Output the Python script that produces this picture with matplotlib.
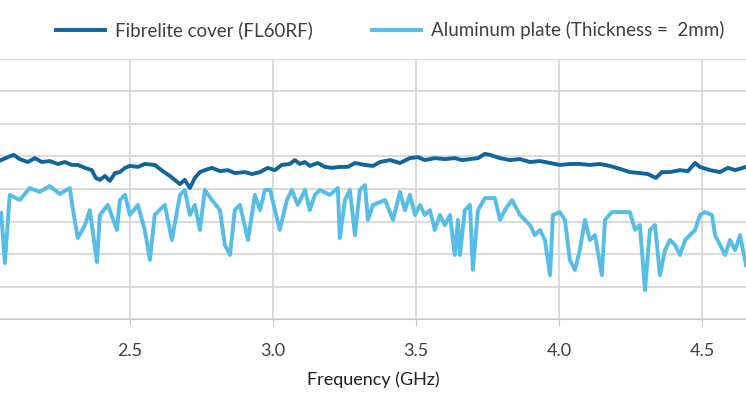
import matplotlib
matplotlib.use("Agg")
import matplotlib.pyplot as plt

plt.rcParams["font.family"] = "Lato"

# Fibrelite cover (FL60RF) - dark line
freq_fl = [2.05, 2.073, 2.094, 2.115, 2.143, 2.168, 2.192, 2.22, 2.248, 2.273,
           2.297, 2.318, 2.343, 2.367, 2.381, 2.395, 2.413, 2.43, 2.448, 2.465,
           2.483, 2.5, 2.528, 2.552, 2.587, 2.615, 2.64, 2.657, 2.675, 2.692,
           2.71, 2.727, 2.745, 2.762, 2.787, 2.815, 2.843, 2.867, 2.902, 2.927,
           2.955, 2.982, 3.007, 3.031, 3.059, 3.077, 3.094, 3.112, 3.129, 3.157,
           3.182, 3.206, 3.234, 3.262, 3.287, 3.322, 3.35, 3.374, 3.409, 3.444,
           3.479, 3.507, 3.531, 3.566, 3.601, 3.636, 3.661, 3.689, 3.717, 3.741,
           3.759, 3.794, 3.829, 3.864, 3.899, 3.934, 3.969, 4.003, 4.038, 4.073,
           4.108, 4.143, 4.178, 4.213, 4.248, 4.283, 4.311, 4.339, 4.36, 4.388,
           4.423, 4.451, 4.476, 4.493, 4.528, 4.563, 4.591, 4.616, 4.654]
val_fl = [-31.1, -30.2, -29.5, -30.8, -31.7, -30.5, -31.7, -31.4, -32.3, -31.7,
          -32.6, -32.6, -33.5, -34.2, -36.6, -37.2, -36.0, -37.5, -35.1, -34.8,
          -33.5, -32.9, -33.2, -32.3, -32.6, -34.5, -36.0, -37.2, -38.5, -37.2,
          -39.7, -36.6, -34.8, -34.2, -33.5, -34.5, -34.2, -35.1, -34.8, -35.4,
          -34.8, -33.5, -34.2, -32.6, -32.3, -31.1, -32.3, -31.7, -32.9, -32.0,
          -33.2, -33.5, -33.2, -33.2, -32.0, -32.6, -32.9, -31.7, -31.1, -32.0,
          -30.5, -30.2, -31.1, -30.5, -30.8, -30.5, -31.1, -30.8, -30.5, -29.2,
          -29.5, -30.5, -31.1, -30.8, -31.7, -31.4, -32.0, -32.6, -32.3, -32.3,
          -32.6, -32.3, -32.9, -33.8, -34.8, -35.1, -35.4, -36.6, -34.8, -34.8,
          -34.2, -34.5, -32.0, -33.2, -34.2, -34.8, -33.5, -34.2, -33.2]

# Aluminum plate (Thickness = 2mm) - light line
freq_al = [2.05, 2.063, 2.08, 2.115, 2.15, 2.185, 2.22, 2.255, 2.29, 2.30,
           2.318, 2.343, 2.36, 2.385, 2.395, 2.423, 2.455, 2.465, 2.483, 2.5,
           2.528, 2.552, 2.57, 2.587, 2.622, 2.647, 2.675, 2.692, 2.71, 2.727,
           2.745, 2.762, 2.787, 2.815, 2.832, 2.85, 2.867, 2.885, 2.913, 2.937,
           2.955, 2.972, 2.99, 3.007, 3.024, 3.049, 3.066, 3.087, 3.112, 3.129,
           3.147, 3.164, 3.199, 3.227, 3.234, 3.252, 3.269, 3.287, 3.304, 3.322,
           3.332, 3.35, 3.392, 3.42, 3.444, 3.462, 3.479, 3.497, 3.514, 3.531,
           3.549, 3.566, 3.584, 3.601, 3.619, 3.636, 3.647, 3.654, 3.671, 3.689,
           3.699, 3.717, 3.741, 3.776, 3.794, 3.811, 3.836, 3.864, 3.899, 3.916,
           3.934, 3.951, 3.969, 3.979, 4.003, 4.021, 4.038, 4.056, 4.073, 4.091,
           4.108, 4.126, 4.15, 4.161, 4.185, 4.213, 4.248, 4.266, 4.283, 4.301,
           4.318, 4.336, 4.353, 4.371, 4.388, 4.406, 4.423, 4.441, 4.458, 4.476,
           4.493, 4.51, 4.535, 4.546, 4.563, 4.581, 4.598, 4.616, 4.633, 4.654]
val_al = [-47.4, -62.8, -41.8, -43.4, -39.7, -40.9, -39.1, -41.5, -39.7, -45.8,
          -55.1, -51.1, -46.5, -62.5, -48.0, -44.9, -52.6, -43.4, -41.8, -48.0,
          -44.9, -52.6, -61.8, -48.0, -44.9, -55.7, -41.8, -40.3, -48.0, -44.9,
          -52.6, -40.3, -43.4, -46.5, -57.2, -60.3, -46.5, -44.9, -55.7, -41.8,
          -46.5, -40.3, -40.3, -46.5, -52.6, -43.4, -40.3, -44.9, -40.3, -46.5,
          -41.8, -40.3, -41.8, -39.7, -55.1, -43.4, -40.3, -54.2, -40.3, -38.8,
          -49.5, -44.9, -43.4, -49.5, -40.9, -46.5, -41.8, -48.0, -44.9, -48.0,
          -46.5, -52.6, -48.0, -51.1, -48.0, -60.3, -49.5, -60.3, -46.5, -44.9,
          -64.9, -46.5, -42.8, -42.8, -49.5, -46.5, -43.4, -48.0, -51.1, -54.2,
          -52.6, -55.7, -66.5, -48.0, -47.1, -49.5, -61.8, -64.9, -58.8, -49.5,
          -55.7, -54.2, -66.5, -49.5, -47.1, -47.1, -47.1, -52.6, -51.1, -71.1,
          -52.6, -51.1, -66.5, -58.8, -55.7, -57.2, -60.3, -55.7, -54.2, -52.6,
          -48.0, -47.1, -48.0, -54.2, -57.2, -60.3, -55.7, -58.8, -54.2, -63.4]

x_ticks = [2.0, 2.5, 3.0, 3.5, 4.0, 4.5]
x_tick_labels = ["2.0", "2.5", "3.0", "3.5", "4.0", "4.5"]

fig = plt.figure(figsize=(7.46, 4.19), dpi=100)
ax = fig.add_axes([0.0, 1 - 319 / 419, 1.0, 260 / 419])

ax.plot(freq_fl, val_fl, color="#12649b", lw=2.8, label="Fibrelite cover (FL60RF)")
ax.plot(freq_al, val_al, color="#55bde6", lw=2.8, label="Aluminum plate (Thickness =  2mm)")

ax.set_xticks(x_ticks)
ax.set_xticklabels(x_tick_labels, fontsize=13, color="#404040")
ax.set_yticks(range(-80, 1, 10))
ax.set_yticklabels([])
# limits after ticks, so the 2.0 tick does not widen the view
ax.set_xlim(2.046, 4.654)
ax.set_ylim(-80, 0)
ax.tick_params(axis="y", length=0)
ax.tick_params(axis="x", length=5, color="#c8c8c8", pad=12)
ax.grid(True, color="#d4d4d4", lw=1.2)
ax.set_axisbelow(True)
for s in ["top", "left", "right"]:
    ax.spines[s].set_visible(False)
ax.spines["bottom"].set_color("#c8c8c8")
ax.set_xlabel("Frequency (GHz)", fontsize=13, color="#202020", labelpad=9)

fig.legend(loc="upper center", bbox_to_anchor=(0.523, 0.99), ncol=2, frameon=False,
           fontsize=13.5, handlelength=2.6, handletextpad=0.5, columnspacing=3.2,
           labelcolor="#404040")

fig.savefig("out.png", dpi=100)
